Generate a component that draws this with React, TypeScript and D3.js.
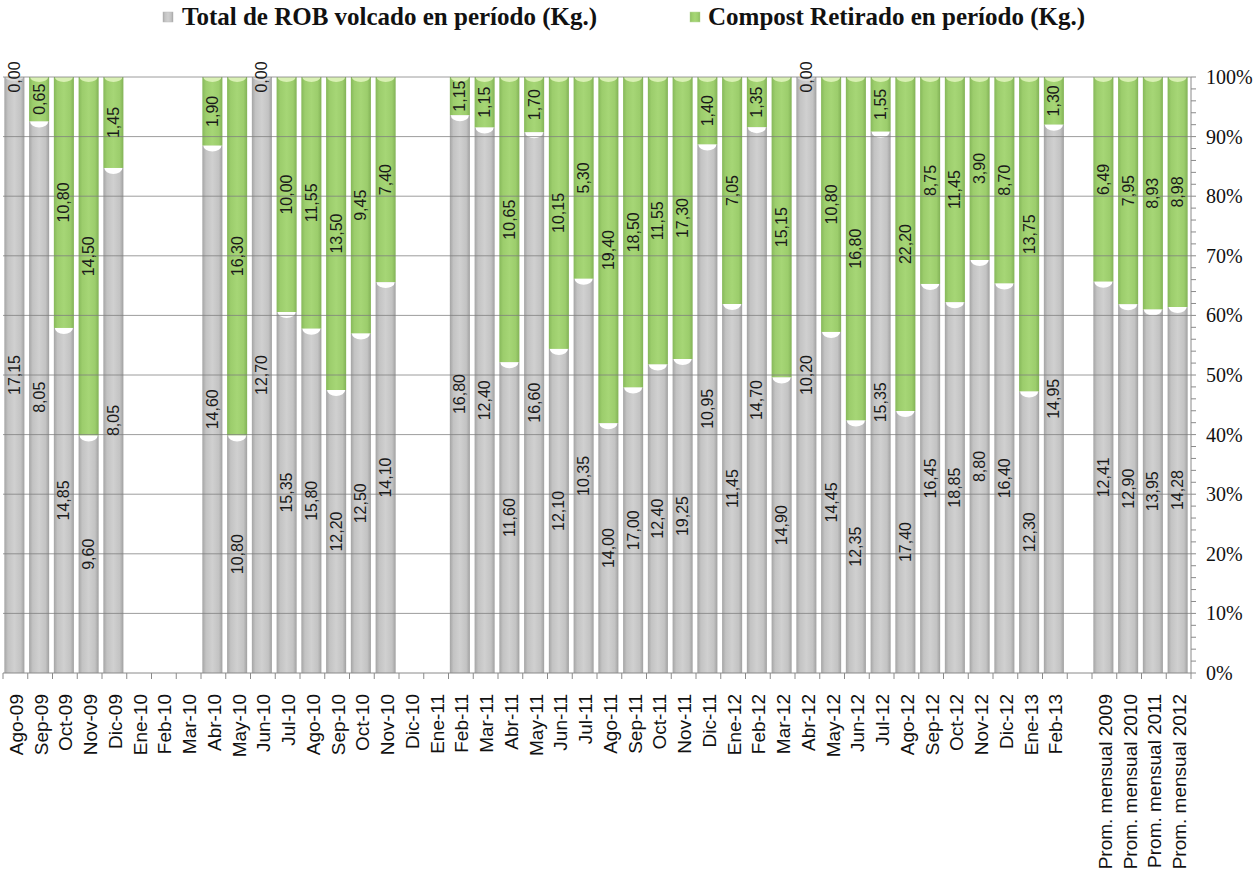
import React from "react";
import * as d3 from "d3";

const categories: string[] = [
  "Ago-09", "Sep-09", "Oct-09", "Nov-09", "Dic-09", "Ene-10", "Feb-10", "Mar-10",
  "Abr-10", "May-10", "Jun-10", "Jul-10", "Ago-10", "Sep-10", "Oct-10", "Nov-10",
  "Dic-10", "Ene-11", "Feb-11", "Mar-11", "Abr-11", "May-11", "Jun-11", "Jul-11",
  "Ago-11", "Sep-11", "Oct-11", "Nov-11", "Dic-11", "Ene-12", "Feb-12", "Mar-12",
  "Abr-12", "May-12", "Jun-12", "Jul-12", "Ago-12", "Sep-12", "Oct-12", "Nov-12",
  "Dic-12", "Ene-13", "Feb-13", "",
  "Prom. mensual 2009", "Prom. mensual 2010", "Prom. mensual 2011", "Prom. mensual 2012",
];

const robValues: (number | null)[] = [
  17.15, 8.05, 14.85, 9.6, 8.05, null, null, null,
  14.6, 10.8, 12.7, 15.35, 15.8, 12.2, 12.5, 14.1,
  null, null, 16.8, 12.4, 11.6, 16.6, 12.1, 10.35,
  14.0, 17.0, 12.4, 19.25, 10.95, 11.45, 14.7, 14.9,
  10.2, 14.45, 12.35, 15.35, 17.4, 16.45, 18.85, 8.8,
  16.4, 12.3, 14.95, null,
  12.41, 12.9, 13.95, 14.28,
];

const compostValues: (number | null)[] = [
  0.0, 0.65, 10.8, 14.5, 1.45, null, null, null,
  1.9, 16.3, 0.0, 10.0, 11.55, 13.5, 9.45, 7.4,
  null, null, 1.15, 1.15, 10.65, 1.7, 10.15, 5.3,
  19.4, 18.5, 11.55, 17.3, 1.4, 7.05, 1.35, 15.15,
  0.0, 10.8, 16.8, 1.55, 22.2, 8.75, 11.45, 3.9,
  8.7, 13.75, 1.3, null,
  6.49, 7.95, 8.93, 8.98,
];

const seriesNames: string[] = [
  "Total de ROB volcado en período (Kg.)",
  "Compost Retirado en período (Kg.)",
];

const yTicks: number[] = [0, 0.1, 0.2, 0.3, 0.4, 0.5, 0.6, 0.7, 0.8, 0.9, 1.0];

const W = 1256;
const H = 883;
const LEFT = 3;
const RIGHT = 1191;
const TOP = 77;
const BOTTOM = 673;

const fmt = (v: number) => d3.format(".2f")(v).replace(".", ",");

export default function App() {
  const keys = categories.map((_, i) => String(i));
  const x = d3.scaleBand<string>().domain(keys).range([LEFT, RIGHT]).paddingInner(0.19).paddingOuter(0.095);
  const y = d3.scaleLinear().domain([0, 1]).range([BOTTOM, TOP]);
  const step = x.step();
  const bw = x.bandwidth();
  const minorTicks = d3.range(0, 1.0001, 0.02);

  const bars = categories.map((c, i) => {
    const r = robValues[i];
    const g = compostValues[i];
    if (r == null || g == null) return null;
    const tot = r + g;
    const p = r / tot;
    const x0 = (x(String(i)) as number) - 1;
    const x1 = x0 + bw;
    const xc = (x0 + x1) / 2;
    const yRobTop = y(p);
    const yTop = y(1);
    return { i, r, g, p, x0, x1, xc, yRobTop, yTop };
  });

  const notch = (x0: number, x1: number, yy: number, d: number) =>
    `M${x0 + 1},${yy} A${(x1 - x0 - 2) / 2},${d} 0 0 0 ${x1 - 1},${yy} Z`;

  return (
    <svg width={W} height={H} style={{ position: "absolute", left: 0, top: 0, background: "#fff" }}>
      <defs>
        <linearGradient id="gGray" x1="0" x2="1" y1="0" y2="0">
          <stop offset="0" stopColor="#a4a4a4" />
          <stop offset="0.18" stopColor="#c3c3c3" />
          <stop offset="0.5" stopColor="#d0d0d0" />
          <stop offset="0.82" stopColor="#c3c3c3" />
          <stop offset="1" stopColor="#a0a0a0" />
        </linearGradient>
        <linearGradient id="gGreen" x1="0" x2="1" y1="0" y2="0">
          <stop offset="0" stopColor="#86b85a" />
          <stop offset="0.18" stopColor="#9ccd6c" />
          <stop offset="0.5" stopColor="#a6d676" />
          <stop offset="0.82" stopColor="#9ccd6c" />
          <stop offset="1" stopColor="#82b256" />
        </linearGradient>
      </defs>

      {/* Legend */}
      <rect x={163} y={12} width={10} height={10} fill="url(#gGray)" stroke="#bbb" strokeWidth={0.5} />
      <text x={182} y={25} fontFamily="'Liberation Serif', serif" fontWeight="bold" fontSize={25} fill="#111">
        {seriesNames[0]}
      </text>
      <rect x={690} y={12} width={10} height={10} fill="url(#gGreen)" stroke="#bcd9a0" strokeWidth={0.5} />
      <text x={708} y={25} fontFamily="'Liberation Serif', serif" fontWeight="bold" fontSize={25} fill="#111">
        {seriesNames[1]}
      </text>

      {/* Bars */}
      {bars.map((b) =>
        b ? (
          <g key={b.i}>
            <rect x={b.x0} y={b.yRobTop} width={bw} height={BOTTOM - b.yRobTop} fill="url(#gGray)" />
            {b.g > 0 && (
              <rect x={b.x0} y={b.yTop} width={bw} height={b.yRobTop - b.yTop} fill="url(#gGreen)" />
            )}
            {b.g > 0 && <path d={notch(b.x0, b.x1, b.yTop, 5)} fill="#d9f0b4" />}
            {b.g > 0 && <path d={notch(b.x0, b.x1, b.yRobTop, 6)} fill="#ffffff" />}
            {b.g === 0 && <path d={notch(b.x0, b.x1, b.yTop, 4)} fill="#dcdcdc" />}
          </g>
        ) : null
      )}

      {/* Gridlines over bars */}
      {yTicks.filter((t) => t > 0).map((t) => (
        <line key={t} x1={LEFT} x2={RIGHT} y1={y(t)} y2={y(t)} stroke="#7d7d7d" strokeWidth={1} opacity={0.75} />
      ))}

      {/* Data labels */}
      {bars.map((b) =>
        b ? (
          <g key={"l" + b.i} fontFamily="'Liberation Sans', Arial, sans-serif" fontSize={16} fill="#1a1a1a">
            <text
              transform={`translate(${b.xc},${(b.yRobTop + BOTTOM) / 2}) rotate(-90)`}
              textAnchor="middle"
              dominantBaseline="central"
            >
              {fmt(b.r)}
            </text>
            <text
              transform={`translate(${b.xc},${(b.yTop + b.yRobTop) / 2}) rotate(-90)`}
              textAnchor="middle"
              dominantBaseline="central"
            >
              {fmt(b.g)}
            </text>
          </g>
        ) : null
      )}

      {/* X axis */}
      <line x1={LEFT} x2={RIGHT} y1={BOTTOM} y2={BOTTOM} stroke="#8a8a8a" strokeWidth={1} />
      {d3.range(categories.length + 1).map((k) => (
        <line key={"xt" + k} x1={LEFT + k * step} x2={LEFT + k * step} y1={BOTTOM} y2={BOTTOM + 6} stroke="#8a8a8a" />
      ))}
      {categories.map((c, i) => (
        <text
          key={"xl" + i}
          transform={`translate(${(x(String(i)) as number) + bw / 2 + 1},${BOTTOM + 21}) rotate(-90)`}
          textAnchor="end"
          dominantBaseline="central"
          fontFamily="'Liberation Sans', Arial, sans-serif"
          fontSize={19}
          fill="#111"
        >
          {c}
        </text>
      ))}

      {/* Right Y axis */}
      <line x1={RIGHT} x2={RIGHT} y1={TOP} y2={BOTTOM} stroke="#8a8a8a" strokeWidth={1} />
      {minorTicks.map((t, k) => (
        <line key={"mt" + k} x1={RIGHT} x2={RIGHT + 5} y1={y(t)} y2={y(t)} stroke="#8a8a8a" />
      ))}
      {yTicks.map((t) => (
        <text
          key={"yl" + t}
          x={1206}
          y={y(t)}
          dominantBaseline="central"
          fontFamily="'Liberation Serif', serif"
          fontSize={20}
          fill="#111"
        >
          {d3.format(".0%")(t)}
        </text>
      ))}
    </svg>
  );
}
